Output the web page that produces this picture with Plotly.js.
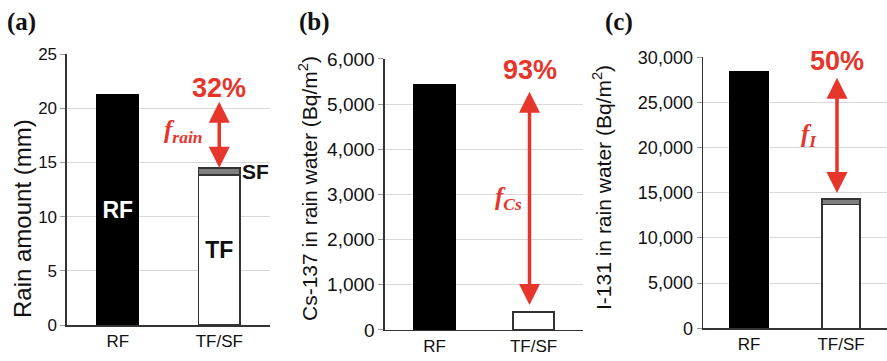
<!DOCTYPE html>
<html><head><meta charset="utf-8">
<script src="https://cdn.plot.ly/plotly-3.0.1.min.js"></script>
<style>html,body{margin:0;padding:0;background:#fff}</style>
</head><body><div id="chart" style="width:887px;height:361px"></div>
<script>
// ---- data ----
const categories = ["RF", "TF/SF"];
const rainRF = [21.2];   const rainTF = [13.85];  const rainSF = [0.65];
const csRF   = [5420];   const csTF   = [400];    const csSF   = [0];
const iRF    = [28450];  const iTF    = [13700];  const iSF    = [600];
const panelLabels = ["(a)", "(b)", "(c)"];
const yTitles = ["Rain amount (mm)", "Cs-137 in rain water (Bq/m<sup>2</sup>)", "I-131 in rain water (Bq/m<sup>2</sup>)"];
const yRanges = [[0, 25], [0, 6000], [0, 30000]];
const yDticks = [5, 1000, 5000];
const pctLabels = ["32%", "93%", "50%"];
const fLabels = ["<b><i>f</i></b><sub><b><i>rain</i></b></sub>", "<b><i>f</i></b><sub><b><i>Cs</i></b></sub>", "<b><i>f</i></b><sub><b><i>I</i></b></sub>"];
const barTexts = ["RF", "TF", "SF"];

// ---- styles ----
const RED = "#e6352b";
const SANS = "Liberation Sans, Arial, sans-serif";
const SERIF = "Liberation Serif, Times New Roman, serif";
const panels = [
  {rf: rainRF, tf: rainTF, sf: rainSF, xd: [0.0755, 0.3044], yd: [0.0997, 0.8504], tick: 17, tsize: 24, tpos: [22, 219], fx: -36, pctShift: 4, headOff: 0, arrowX: 0, labelled: true},
  {rf: csRF, tf: csTF, sf: csSF, xd: [0.4340, 0.6573], yd: [0.0859, 0.8366], tick: 19, tsize: 21, tpos: [308, 189], fx: -25, pctShift: 12, headOff: 7, arrowX: -4, labelled: false},
  {rf: iRF, tf: iTF, sf: iSF, xd: [0.7926, 1.0], yd: [0.0906, 0.8413], tick: 18, tsize: 21, tpos: [602, 188], fx: -32, pctShift: 7, headOff: 6, arrowX: -4, labelled: false}
];

const traces = [];
const layout = {
  width: 887, height: 361, autosize: false,
  margin: {l: 0, r: 0, t: 0, b: 0},
  paper_bgcolor: "#fff", plot_bgcolor: "#fff",
  barmode: "stack", showlegend: false,
  font: {family: SANS, color: "#111"},
  annotations: []
};

panels.forEach((p, i) => {
  const n = i === 0 ? "" : String(i + 1);
  const xa = "x" + n, ya = "y" + n;
  traces.push({type: "bar", x: [categories[0]], y: p.rf, xaxis: xa, yaxis: ya, width: 0.41,
    marker: {color: "#000", line: {color: "#000", width: 1.5}},
    text: p.labelled ? [barTexts[0]] : undefined, textposition: "inside", insidetextanchor: "middle",
    textfont: {family: SANS, size: 23, color: "#fff", weight: "bold"}, hoverinfo: "none"});
  traces.push({type: "bar", x: [categories[1]], y: p.tf, xaxis: xa, yaxis: ya, width: 0.41,
    marker: {color: "#fff", line: {color: "#333", width: 1.5}},
    text: p.labelled ? [barTexts[1]] : undefined, textposition: "inside", insidetextanchor: "middle",
    textfont: {family: SANS, size: 23, color: "#111", weight: "bold"}, hoverinfo: "none"});
  traces.push({type: "bar", x: [categories[1]], y: p.sf, xaxis: xa, yaxis: ya, width: 0.41,
    marker: {color: "#808080", line: {color: "#333", width: 1.5}}, hoverinfo: "none"});

  layout["xaxis" + n] = {domain: p.xd, anchor: ya, type: "category", categoryorder: "array", categoryarray: categories,
    range: [-0.5, 1.5], showline: true, linecolor: "#333", linewidth: 1.5, ticks: "", showgrid: false,
    tickfont: {family: SANS, size: 17, color: "#111"}, fixedrange: true};
  layout["yaxis" + n] = {domain: p.yd, anchor: xa, range: yRanges[i], dtick: yDticks[i], tick0: 0,
    tickformat: i === 0 ? "d" : ",d", showline: true, linecolor: "#333", linewidth: 1.5,
    ticks: "outside", ticklen: 5, tickcolor: "#999", showgrid: true, gridcolor: "#d9d9d9", gridwidth: 1,
    zeroline: false, tickfont: {family: SANS, size: p.tick, color: "#111"}, fixedrange: true};

  // y-axis title
  layout.annotations.push({xref: "paper", yref: "paper", x: p.tpos[0] / 887, y: 1 - p.tpos[1] / 361,
    xanchor: "center", yanchor: "middle", textangle: -90, showarrow: false, text: yTitles[i],
    font: {family: SANS, size: p.tsize, color: "#111"}});

  const total = p.tf[0] + p.sf[0];
  // double-headed arrow between RF level and TF/SF level
  layout.annotations.push({xref: xa, yref: ya, x: categories[1], y: total, axref: "pixel", ayref: ya, ax: 0, ay: p.rf[0],
    text: "", showarrow: true, arrowhead: 2, startarrowhead: 2, arrowside: "end+start", arrowsize: 1.2, startarrowsize: 1.2,
    arrowwidth: 3.5, arrowcolor: RED, standoff: p.headOff, startstandoff: 5, xshift: p.arrowX});
  layout.annotations.push({xref: xa, yref: ya, x: categories[1], y: p.rf[0], text: "<b>" + pctLabels[i] + "</b>",
    showarrow: false, yanchor: "bottom", xanchor: "center", yshift: p.pctShift - 14, xshift: p.arrowX,
    font: {family: SANS, size: 27, color: RED}});
  layout.annotations.push({xref: xa, yref: ya, x: categories[1], y: (p.rf[0] + total) / 2, text: fLabels[i],
    showarrow: false, xanchor: "center", yanchor: "middle", xshift: p.fx,
    font: {family: SERIF, size: 25, color: RED}});
  // panel letter
  layout.annotations.push({xref: "paper", yref: "paper", x: [5, 297, 603][i] / 887, y: 1 - 22 / 361,
    xanchor: "left", yanchor: "middle", showarrow: false, text: "<b>" + panelLabels[i] + "</b>",
    font: {family: SERIF, size: 25, color: "#111"}});
  if (p.labelled) {
    layout.annotations.push({xref: xa, yref: ya, x: categories[1], y: p.tf[0] + p.sf[0] / 2, text: "<b>" + barTexts[2] + "</b>",
      showarrow: false, xanchor: "left", yanchor: "middle", xshift: 21, font: {family: SANS, size: 21, color: "#111"}});
  }
});

Plotly.newPlot("chart", traces, layout, {staticPlot: true, displayModeBar: false});
</script></body></html>
